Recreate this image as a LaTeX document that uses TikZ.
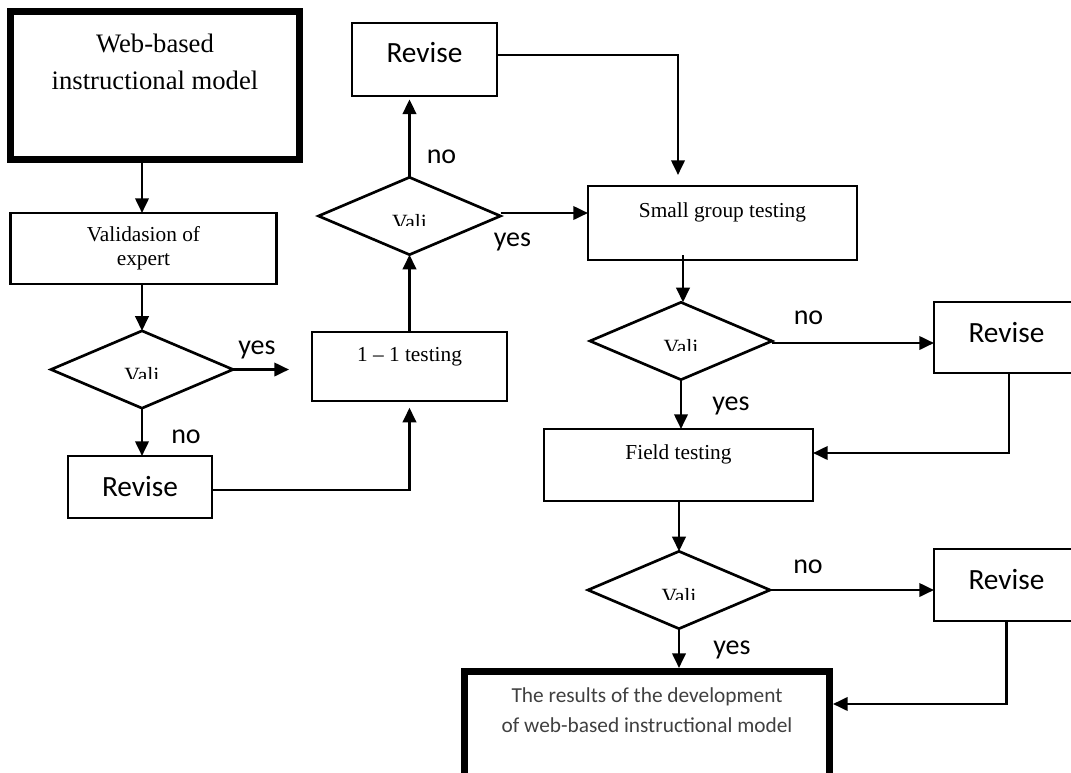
\documentclass[tikz,border=0pt]{standalone}
\usepackage{fontspec}
\setmainfont{Liberation Serif}
\newfontfamily\calib{Carlito}
\usetikzlibrary{arrows.meta,shapes.geometric,calc}
\definecolor{resgray}{gray}{0.25}

% "Vali" caption inside a decision diamond, cut off below its middle
\newcommand\valilabel[1]{%
  \begin{scope}
    \clip ($(#1.west)+(0,9)$) rectangle (#1.east |- #1.north);
    \node[valitxt, anchor=base] at ($(#1.center)+(0,13)$) {Vali};
  \end{scope}}

\begin{document}
\begin{tikzpicture}[x=0.75pt,y=-0.75pt,
  line width=2pt,
  box/.style={draw, rectangle, inner sep=0pt, outer sep=0pt},
  thickbox/.style={box, line width=5.25pt},
  decision/.style={draw, diamond, inner sep=0pt, outer sep=0pt,
    minimum width=136.5pt, minimum height=58pt},
  boxtxt/.style={font=\fontsize{16pt}{18pt}\selectfont, align=center, inner sep=0pt},
  valitxt/.style={font=\fontsize{16.3pt}{18pt}\selectfont, inner sep=0pt},
  revtxt/.style={font=\calib\fontsize{22pt}{26pt}\selectfont, inner sep=0pt},
  yn/.style={font=\calib\fontsize{21pt}{25pt}\selectfont, inner sep=0pt},
  arr/.style={-{Triangle[length=11pt,width=10pt]}},
]
\useasboundingbox (0,0) rectangle (1071,772);
\fill[white] (0,0) rectangle (1071,772);
\clip (0,0) rectangle (1071,772);

% ---- left column ----
\node[thickbox, minimum width=216.75pt, minimum height=111pt,
  label={[font=\fontsize{20pt}{27.75pt}\selectfont, align=center, yshift=18pt]center:Web-based\\instructional model}]
  (web) at (155,85.5) {};
\node[box, minimum width=199.5pt, minimum height=53.25pt,
  label={[boxtxt]center:Validasion of\\expert}] (valid) at (143.5,248.5) {};
\node[decision] (d1) at (142,369.5) {};
\valilabel{d1}
\node[box, minimum width=108pt, minimum height=46.5pt,
  label={[revtxt]center:Revise}] (rev1) at (140,487) {};
\coordinate (y1end) at (289,369.5);

% ---- second column ----
\node[box, minimum width=146.25pt, minimum height=51.75pt,
  label={[boxtxt, yshift=7.1pt]center:1 -- 1 testing}] (one) at (409.5,366.5) {};
\node[decision] (d2) at (409.5,216) {};
\valilabel{d2}
\node[box, minimum width=108.75pt, minimum height=54.75pt,
  label={[revtxt, yshift=4.9pt]center:Revise}] (rev2) at (424.5,59.5) {};

% ---- third column ----
\node[box, minimum width=201.75pt, minimum height=55.5pt,
  label={[boxtxt, yshift=8.25pt]center:Small group testing}] (sg) at (722.5,223) {};
\node[decision] (d3) at (681,341) {};
\valilabel{d3}
\node[box, minimum width=108.75pt, minimum height=53.25pt,
  label={[revtxt, yshift=4.1pt]center:Revise}] (rev3) at (1006.5,337.5) {};
\node[box, minimum width=201.75pt, minimum height=54pt,
  label={[boxtxt, yshift=8.25pt]center:Field testing}] (field) at (678.5,465) {};
\node[decision] (d4) at (679,590) {};
\valilabel{d4}
\node[box, minimum width=108.75pt, minimum height=54pt,
  label={[revtxt, yshift=3.75pt]center:Revise}] (rev4) at (1006.5,585) {};
\node[thickbox, minimum width=273.75pt, minimum height=96.4pt,
  label={[font=\calib\fontsize{16pt}{22.5pt}\selectfont, text=resgray, align=center, yshift=19.3pt]center:The results of the development\\of web-based instructional model}]
  (res) at (647,735.75) {};

% ---- yes / no captions ----
\node[yn] (yes1) at (257,349.5) {yes};
\node[yn] (no1) at (186,437) {no};
\node[yn] (no2) at (441.5,156.5) {no};
\node[yn] (yes2) at (512.5,241.5) {yes};
\node[yn] (no3) at (808.5,317.5) {no};
\node[yn] (yes3) at (731,405.5) {yes};
\node[yn] (no4) at (808,567) {no};
\node[yn] (yes4) at (732,650) {yes};

% ---- connectors ----
\draw[arr] (d1.north |- web.south) -- (d1.north |- valid.north);
\draw[arr] (d1.north |- valid.south) -- (d1.north);
\draw[arr] (d1.east) -- (y1end);
\draw[arr] (d1.south) -- (d1.south |- rev1.north);
\draw[arr, shorten >=5pt] ($(rev1.east)+(0,3)$) -| (one.south);
\draw[arr] (one.north) -- (d2.south);
\draw[arr, shorten >=2.5pt] (d2.north) -- (d2.north |- rev2.south);
\draw[arr] ($(rev2.east)+(0,-4.5)$) -| ($(sg.north)+(-44.5,-11)$);
\draw[arr] ($(d2.east)+(0,-3)$) -- ($(d2.east -| sg.west)+(0,-3)$);
\draw[arr] ($(d3.north |- sg.south)+(2,-5)$) -- ($(d3.north)+(2,0)$);
\draw[arr] ($(d3.east)+(0,2)$) -- ($(d3.east -| rev3.west)+(0,2)$);
\draw[arr] (d3.south) -- (d3.south |- field.north);
\draw[arr] ($(rev3.south)+(2.5,0)$) |- ($(field.east)+(0,-12)$);
\draw[arr] (field.south -| d4.north) -- (d4.north);
\draw[arr] (d4.east) -- (d4.east -| rev4.west);
\draw[arr, shorten >=2.6pt] (d4.south) -- (d4.south |- res.north);
\draw[arr, shorten >=2.6pt] (rev4.south) |- ($(res.north east)+(0,32.5)$);
\end{tikzpicture}
\end{document}
